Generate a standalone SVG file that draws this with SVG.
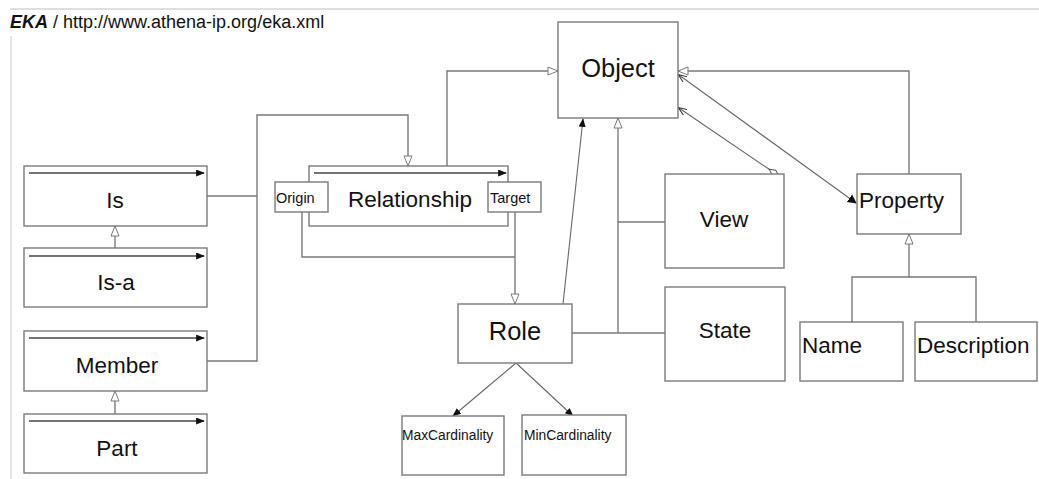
<svg xmlns="http://www.w3.org/2000/svg" width="1039" height="479" viewBox="0 0 1039 479">
  <style>
    .box { fill: #ffffff; stroke: #7a7a7a; stroke-width: 1.4; }
    .conn { fill: none; stroke: #7a7a7a; stroke-width: 1.4; }
    .thin { fill: none; stroke: #666666; stroke-width: 1.1; }
    .inner { fill: none; stroke: #444444; stroke-width: 1.4; }
    .frame { fill: none; stroke: #d4d4d4; stroke-width: 1.3; }
    text { font-family: "Liberation Sans", Arial, sans-serif; fill: #111111; }
    .big { font-size: 22.5px; text-anchor: middle; }
    .large { font-size: 25.5px; text-anchor: middle; }
    .left { font-size: 22.5px; }
    .small { font-size: 14.5px; }
    .tiny { font-size: 13.8px; }
  </style>
  <defs>
    <marker id="gen" viewBox="0 0 12 10" refX="11" refY="5" markerWidth="12" markerHeight="10" markerUnits="userSpaceOnUse" orient="auto">
      <path d="M1,1 L11,5 L1,9 Z" fill="#ffffff" stroke="#7a7a7a" stroke-width="1"/>
    </marker>
    <marker id="solid" viewBox="0 0 10 8" refX="9" refY="4" markerWidth="9" markerHeight="7" markerUnits="userSpaceOnUse" orient="auto">
      <path d="M0,0 L10,4 L0,8 Z" fill="#111111"/>
    </marker>
    <marker id="big-solid" viewBox="0 0 10 10" refX="9" refY="5" markerWidth="9" markerHeight="11" markerUnits="userSpaceOnUse" orient="auto">
      <path d="M0,0 L10,5 L0,10 Z" fill="#111111"/>
    </marker>
    <marker id="open" viewBox="0 0 10 8" refX="9" refY="4" markerWidth="9" markerHeight="7" markerUnits="userSpaceOnUse" orient="auto-start-reverse">
      <path d="M0,0 L10,4 L0,8" fill="none" stroke="#333333" stroke-width="1.2"/>
    </marker>
    <marker id="diamond" viewBox="0 0 14 8" refX="13" refY="4" markerWidth="14" markerHeight="8" markerUnits="userSpaceOnUse" orient="auto">
      <path d="M1,4 L7,1 L13,4 L7,7 Z" fill="#ffffff" stroke="#555555" stroke-width="1"/>
    </marker>
  </defs>

  <!-- page frame -->
  <line class="frame" x1="10" y1="9" x2="1039" y2="9"/>
  <line class="frame" x1="11" y1="36" x2="11" y2="479"/>

  <!-- header -->
  <text x="10" y="27.5" font-size="18"><tspan font-weight="bold" font-style="italic">EKA</tspan> / http://www.athena-ip.org/eka.xml</text>

  <!-- connectors -->
  <g id="connectors">
    <!-- Is / Member to Relationship -->
    <polyline class="conn" points="207,196 257,196"/>
    <polyline class="conn" points="207,361 257,361 257,115 408,115 408,166" marker-end="url(#gen)"/>
    <!-- generalisations on the left -->
    <line class="conn" x1="115" y1="248" x2="115" y2="226" marker-end="url(#gen)"/>
    <line class="conn" x1="115" y1="414" x2="115" y2="391" marker-end="url(#gen)"/>
    <!-- Relationship to Object -->
    <polyline class="conn" points="447,166 447,71 558,71" marker-end="url(#gen)"/>
    <!-- Origin / Target to Role -->
    <polyline class="conn" points="302,212 302,257 515,257"/>
    <line class="conn" x1="515" y1="212" x2="515" y2="304" marker-end="url(#gen)"/>
    <!-- Role to Object -->
    <line class="thin" x1="563" y1="304" x2="583" y2="119" marker-end="url(#solid)"/>
    <!-- Role, View, State to Object -->
    <line class="conn" x1="572" y1="333" x2="665" y2="333"/>
    <line class="conn" x1="618" y1="222" x2="665" y2="222"/>
    <line class="conn" x1="618" y1="333" x2="618" y2="118" marker-end="url(#gen)"/>
    <!-- Object - View aggregation -->
    <line class="thin" x1="679" y1="108" x2="779" y2="176" marker-start="url(#open)" marker-end="url(#diamond)"/>
    <!-- Object - Property association -->
    <line class="thin" x1="679" y1="75" x2="856" y2="203" marker-start="url(#open)" marker-end="url(#big-solid)"/>
    <!-- Property to Object -->
    <polyline class="conn" points="909,174 909,71 678,71" marker-end="url(#gen)"/>
    <!-- Name / Description to Property -->
    <polyline class="conn" points="852,322 852,277 976,277 976,322"/>
    <line class="conn" x1="909" y1="277" x2="909" y2="234" marker-end="url(#gen)"/>
    <!-- Role to cardinalities -->
    <line class="thin" x1="516" y1="363" x2="453" y2="416" marker-end="url(#solid)"/>
    <line class="thin" x1="516" y1="363" x2="573" y2="416" marker-end="url(#solid)"/>
  </g>

  <!-- nodes -->
  <g id="object">
    <rect class="box" x="558" y="22" width="120" height="96"/>
    <text class="large" x="618" y="77">Object</text>
  </g>

  <g id="is">
    <rect class="box" x="24" y="166" width="183" height="60"/>
    <line class="inner" x1="29" y1="173" x2="204" y2="173" marker-end="url(#solid)"/>
    <text class="big" x="115" y="208">Is</text>
  </g>

  <g id="is-a">
    <rect class="box" x="24" y="248" width="183" height="59"/>
    <line class="inner" x1="29" y1="256" x2="204" y2="256" marker-end="url(#solid)"/>
    <text class="big" x="116" y="290">Is-a</text>
  </g>

  <g id="member">
    <rect class="box" x="24" y="331" width="183" height="60"/>
    <line class="inner" x1="29" y1="338" x2="204" y2="338" marker-end="url(#solid)"/>
    <text class="big" x="117" y="373">Member</text>
  </g>

  <g id="part">
    <rect class="box" x="24" y="414" width="183" height="59"/>
    <line class="inner" x1="29" y1="421" x2="204" y2="421" marker-end="url(#solid)"/>
    <text class="big" x="117" y="456">Part</text>
  </g>

  <g id="relationship">
    <rect class="box" x="309" y="166" width="199" height="60"/>
    <line class="inner" x1="314" y1="173" x2="506" y2="173" marker-end="url(#solid)"/>
    <text class="big" x="410" y="207">Relationship</text>
  </g>

  <g id="origin">
    <rect class="box" x="275" y="182" width="53" height="30"/>
    <text class="small" x="276" y="203">Origin</text>
  </g>

  <g id="target">
    <rect class="box" x="488" y="182" width="53" height="30"/>
    <text class="small" x="490" y="203">Target</text>
  </g>

  <g id="role">
    <rect class="box" x="458" y="304" width="114" height="59"/>
    <text class="large" x="515" y="340">Role</text>
  </g>

  <g id="view">
    <rect class="box" x="665" y="174" width="119" height="94"/>
    <text class="big" x="724" y="227">View</text>
  </g>

  <g id="state">
    <rect class="box" x="665" y="287" width="120" height="94"/>
    <text class="big" x="725" y="338">State</text>
  </g>

  <g id="property">
    <rect class="box" x="857" y="174" width="104" height="60"/>
    <text class="left" x="859" y="208">Property</text>
  </g>

  <g id="name">
    <rect class="box" x="800" y="322" width="103" height="59"/>
    <text class="left" x="802" y="353">Name</text>
  </g>

  <g id="description">
    <rect class="box" x="915" y="322" width="122" height="59"/>
    <text class="left" x="917" y="353">Description</text>
  </g>

  <g id="max-cardinality">
    <rect class="box" x="402" y="416" width="102" height="59"/>
    <text class="tiny" x="402" y="440">MaxCardinality</text>
  </g>

  <g id="min-cardinality">
    <rect class="box" x="522" y="415" width="104" height="60"/>
    <text class="tiny" x="524" y="440">MinCardinality</text>
  </g>
</svg>
